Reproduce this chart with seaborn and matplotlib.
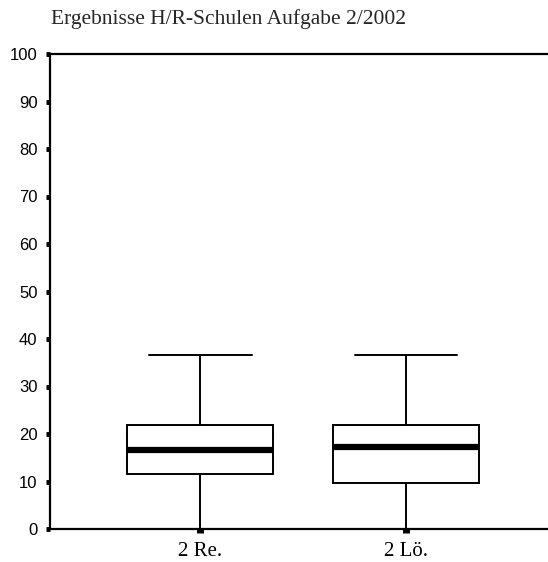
import numpy as np
import pandas as pd
import matplotlib
matplotlib.use("Agg")
import matplotlib.pyplot as plt
import seaborn as sns

kategorien = ["2 Re.", "2 Lö."]
werte_re = [0.0, 11.6, 16.7, 21.9, 36.6]
werte_loe = [0.0, 9.6, 17.2, 21.9, 36.6]
y_ticks = list(range(0, 101, 10))

df = pd.DataFrame({
    "Aufgabe": [kategorien[0]] * len(werte_re) + [kategorien[1]] * len(werte_loe),
    "Punkte": werte_re + werte_loe,
})

sns.set_style("white")

fig = plt.figure(figsize=(5.48, 5.62), dpi=100)
ax = fig.add_axes([50 / 548, 1 - 529 / 562, 0.92, (529 - 54) / 562])

sns.boxplot(
    data=df, x="Aufgabe", y="Punkte", order=kategorien, ax=ax,
    whis=(0, 100), width=0.71, color="white", fill=True,
    linecolor="black", linewidth=1.4,
    medianprops=dict(linewidth=4.5, color="black"),
    capprops=dict(linewidth=1.4),
    whiskerprops=dict(linewidth=1.4),
    showfliers=False,
)
# Kappenbreite anpassen
for line in ax.lines:
    xd = line.get_xdata()
    yd = line.get_ydata()
    if len(xd) == 2 and yd[0] == yd[1] and abs(xd[1] - xd[0]) > 0 and yd[0] in (0.0, 36.6):
        mid = (xd[0] + xd[1]) / 2
        line.set_xdata([mid - 0.25, mid + 0.25])

ax.set_xlim(-0.73, 1.72)
ax.set_ylim(0, 100)
ax.set_yticks(y_ticks)
ax.set_xlabel("")
ax.set_ylabel("")

for side in ["left", "bottom", "top"]:
    ax.spines[side].set_visible(True)
    ax.spines[side].set_linewidth(1.6)
    ax.spines[side].set_color("black")
ax.spines["right"].set_visible(False)

ax.tick_params(axis="both", direction="out", color="black", labelcolor="black",
               left=True, bottom=True)
ax.tick_params(axis="y", length=3, width=3.5, pad=6, labelsize=12)
ax.tick_params(axis="x", length=3, width=5, pad=6)
for lbl in ax.get_yticklabels():
    lbl.set_family(["Liberation Sans", "DejaVu Sans"])
for lbl in ax.get_xticklabels():
    lbl.set_family(["Liberation Serif", "DejaVu Serif"])
    lbl.set_fontsize(15)

fig.text(51 / 548, 1 - 19 / 562, "Ergebnisse H/R-Schulen Aufgabe 2/2002",
         family=["Liberation Serif", "DejaVu Serif"], fontsize=15.5,
         ha="left", va="center")

fig.savefig("out.png", dpi=100)
